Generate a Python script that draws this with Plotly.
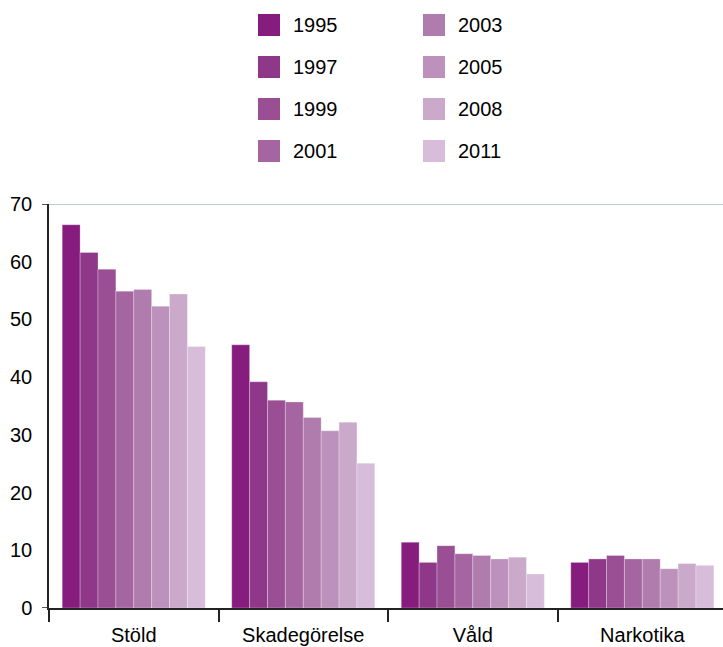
import plotly.graph_objects as go

categories = ["Stöld", "Skadegörelse", "Våld", "Narkotika"]
years = ["1995", "1997", "1999", "2001", "2003", "2005", "2008", "2011"]

v1995 = [66.4, 45.6, 11.4, 7.9]
v1997 = [61.6, 39.2, 7.9, 8.5]
v1999 = [58.7, 36.0, 10.8, 9.1]
v2001 = [54.9, 35.7, 9.4, 8.5]
v2003 = [55.2, 33.0, 9.1, 8.5]
v2005 = [52.3, 30.7, 8.5, 6.8]
v2008 = [54.4, 32.2, 8.8, 7.7]
v2011 = [45.3, 25.1, 5.9, 7.4]

series = [v1995, v1997, v1999, v2001, v2003, v2005, v2008, v2011]
colors = ["#861d7e", "#8f3889", "#9a4f95", "#a565a1",
          "#b07bad", "#bc91bb", "#caa9cb", "#d8bdda"]

FONT = "Liberation Sans, Arial, sans-serif"
FS = 20
W, H = 723, 647
ML, MR, MT, MB = 49, 0, 204, 39
PW = W - ML - MR
PH = H - MT - MB

fig = go.Figure()
for yr, vals, col in zip(years, series, colors):
    fig.add_trace(go.Bar(
        x=categories, y=vals, name=yr, marker_color=col,
        marker_line=dict(color="rgba(255,255,255,0.45)", width=0.6),
        showlegend=False,
    ))

# convert page pixel coords to paper coords
def px_x(px):
    return (px - ML) / PW

def px_y(py):
    return (H - MB - py) / PH

shapes = []
annotations = []
# manual two-column legend
col_sq_x = [258, 423]
row_cy = [25, 67, 109, 151]
for i, (yr, col) in enumerate(zip(years, colors)):
    c, r = divmod(i, 4)
    x0 = col_sq_x[c]
    cy = row_cy[r]
    shapes.append(dict(type="rect", xref="paper", yref="paper",
                       x0=px_x(x0), x1=px_x(x0 + 22),
                       y0=px_y(cy + 11), y1=px_y(cy - 11),
                       fillcolor=col, line=dict(width=0), layer="above"))
    annotations.append(dict(xref="paper", yref="paper",
                            x=px_x(x0 + 33), y=px_y(cy),
                            text=yr, showarrow=False,
                            xanchor="left", yanchor="middle",
                            font=dict(family=FONT, size=FS, color="#000")))

# top boundary line at 70 with short stubs at 70 and 0
shapes.append(dict(type="line", xref="paper", yref="y",
                   x0=0, x1=1, y0=70, y1=70,
                   line=dict(color="#c3cad2", width=2), layer="below"))
shapes.append(dict(type="line", xref="paper", yref="y",
                   x0=px_x(42), x1=0, y0=70, y1=70,
                   line=dict(color="#222", width=1.5)))
shapes.append(dict(type="line", xref="paper", yref="y",
                   x0=px_x(42), x1=0, y0=0, y1=0,
                   line=dict(color="#222", width=1.5)))

fig.update_layout(
    width=W, height=H,
    margin=dict(l=ML, r=MR, t=MT, b=MB, pad=0),
    paper_bgcolor="white", plot_bgcolor="white",
    barmode="group", bargap=0.156, bargroupgap=0,
    font=dict(family=FONT, size=FS, color="#000"),
    shapes=shapes, annotations=annotations,
    showlegend=False,
)
fig.update_xaxes(
    range=[-0.5, 3.476],
    showline=True, linecolor="#222", linewidth=1.5,
    ticks="outside", tickson="boundaries", ticklen=12,
    tickcolor="#222", tickwidth=1.5,
    showgrid=False, zeroline=False,
    ticklabelstandoff=8,
    tickfont=dict(family=FONT, size=FS, color="#000"),
)
fig.update_yaxes(
    range=[0, 70], tickvals=[0, 10, 20, 30, 40, 50, 60, 70],
    showline=True, linecolor="#222", linewidth=1.5,
    ticks="", showgrid=False, zeroline=False,
    ticklabelstandoff=11,
    tickfont=dict(family=FONT, size=FS, color="#000"),
)

fig.write_html(
    "out.html",
    config={"displayModeBar": False},
    post_script="document.body.style.margin='0';document.body.style.overflow='hidden';",
)
